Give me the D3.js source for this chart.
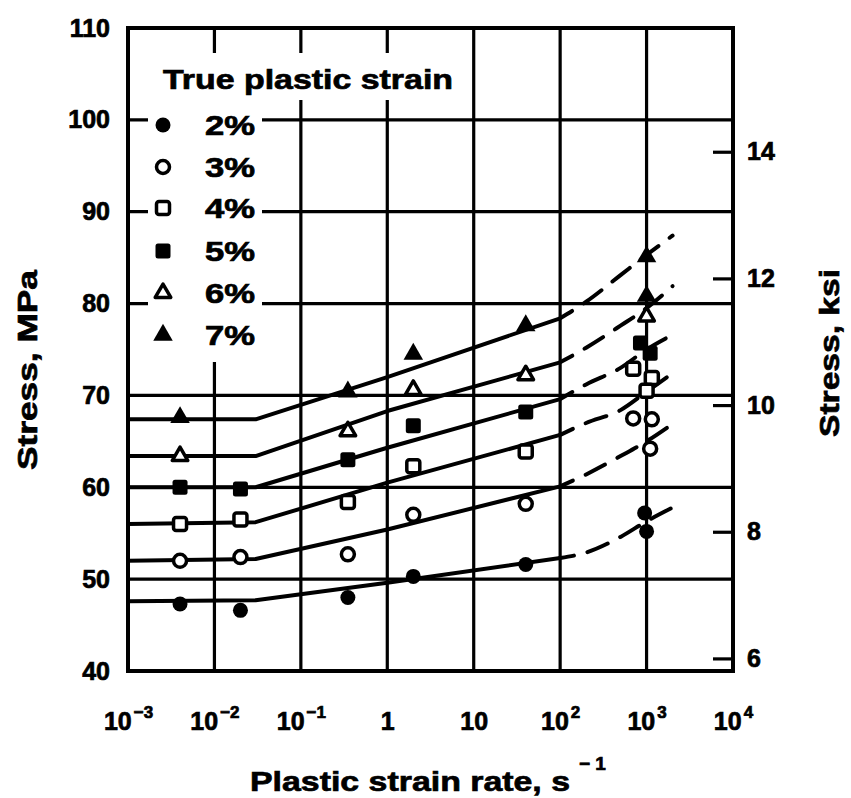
<!DOCTYPE html>
<html>
<head>
<meta charset="utf-8">
<script src="https://cdn.jsdelivr.net/npm/d3@7"></script>
<style>
  html, body { margin: 0; padding: 0; background: #fff; }
  svg { display: block; }
  text { font-family: "Liberation Sans", Arial, sans-serif; font-weight: bold; fill: #000; stroke: #000; stroke-width: 0.7px; }
</style>
</head>
<body>
<svg id="chart"></svg>
<script>
// legend / series
const strainLabels = ['2%', '3%', '4%', '5%', '6%', '7%'];
const markerTypes = ['dot', 'circle', 'square', 'filledSquare', 'triangle', 'filledTriangle'];

// measured points: [plastic strain rate (1/s), stress (MPa)]
const points2 = [[0.004, 47.3], [0.02, 46.6], [0.35, 48.0], [2, 50.3], [40, 51.6], [950, 57.2], [1000, 55.2]];
const points3 = [[0.004, 52.0], [0.02, 52.4], [0.35, 52.7], [2, 57.0], [40, 58.2], [700, 67.5], [1150, 67.4], [1100, 64.2]];
const points4 = [[0.004, 56.0], [0.02, 56.5], [0.35, 58.4], [2, 62.3], [40, 63.9], [700, 72.9], [1150, 71.9], [1000, 70.5]];
const points5 = [[0.004, 60.0], [0.02, 59.8], [0.35, 63.0], [2, 66.7], [40, 68.2], [850, 75.7], [1100, 74.6]];
const points6 = [[0.004, 63.4], [0.35, 66.1], [2, 70.6], [40, 72.2], [1000, 78.6]];
const points7 = [[0.004, 67.6], [0.35, 70.4], [2, 74.5], [40, 77.6], [1000, 85.1], [1000, 80.8]];

// fitted curves, read at these rates
const solidRates = [0.001, 0.03, 1, 100];
const dashedRates = [100, 200, 500, 1000, 2000];
const solid2 = [47.6, 47.7, 49.6, 52.3];
const solid3 = [52.0, 52.2, 55.4, 60.1];
const solid4 = [56.0, 56.2, 60.5, 65.7];
const solid5 = [60.0, 60.0, 64.3, 69.6];
const solid6 = [63.4, 63.4, 68.3, 73.6];
const solid7 = [67.4, 67.4, 72.0, 78.4];
const dashed2 = [52.3, 52.9, 54.6, 56.3, 57.8];
const dashed3 = [60.1, 61.4, 63.4, 65.0, 66.9];
const dashed4 = [65.7, 67.0, 68.4, 70.4, 72.4];
const dashed5 = [69.6, 71.2, 73.0, 75.0, 76.6];
const dashed6 = [73.6, 75.2, 77.6, 79.5, 81.9];
const dashed7 = [78.4, 80.2, 83.1, 85.3, 87.4];

// axes
const xTickValues = [1e-3, 1e-2, 1e-1, 1, 10, 1e2, 1e3, 1e4];
const xTickBase = ['10', '10', '10', '1', '10', '10', '10', '10'];
const xTickExp = ['\u22123', '\u22122', '\u22121', '', '', '2', '3', '4'];
const mpaTicks = [40, 50, 60, 70, 80, 90, 100, 110];
const ksiTicks = [6, 8, 10, 12, 14];
const MPA_PER_KSI = 6.895;

const pointSets = [points2, points3, points4, points5, points6, points7];
const solidFits = [solid2, solid3, solid4, solid5, solid6, solid7];
const dashedFits = [dashed2, dashed3, dashed4, dashed5, dashed6, dashed7];

const series = strainLabels.map((label, i) => ({
  label,
  marker: markerTypes[i],
  points: pointSets[i],
  solid: solidRates.map((r, j) => [r, solidFits[i][j]]),
  dashed: dashedRates.map((r, j) => [r, dashedFits[i][j]])
}));

const svgWidth = 851;
const svgHeight = 798;
const margin = { top: 28, right: 118, bottom: 127, left: 128 };
const x0 = margin.left, x1 = svgWidth - margin.right;
const y0 = margin.top, y1 = svgHeight - margin.bottom;

const svg = d3.select('#chart')
  .attr('width', svgWidth)
  .attr('height', svgHeight);

svg.append('rect').attr('width', svgWidth).attr('height', svgHeight).attr('fill', '#fff');

const xScale = d3.scaleLog().domain([1e-3, 1e4]).range([x0, x1]);
const yScale = d3.scaleLinear().domain([40, 110]).range([y1, y0]);
const yKsi = d3.scaleLinear().domain([40 / MPA_PER_KSI, 110 / MPA_PER_KSI]).range([y1, y0]);

// grid
const grid = svg.append('g').attr('stroke', '#000').attr('stroke-width', 3.2);
grid.selectAll('.vgrid')
  .data(xTickValues.slice(1, -1))
  .join('line')
  .attr('class', 'vgrid')
  .attr('x1', d => xScale(d)).attr('x2', d => xScale(d))
  .attr('y1', y0).attr('y2', y1);
grid.selectAll('.hgrid')
  .data(mpaTicks.slice(1, -1))
  .join('line')
  .attr('class', 'hgrid')
  .attr('x1', x0).attr('x2', x1)
  .attr('y1', d => yScale(d)).attr('y2', d => yScale(d));

// legend background (grid is cut under the legend)
svg.append('rect').attr('x', 148).attr('y', 53).attr('width', 314).attr('height', 47).attr('fill', '#fff');
svg.append('rect').attr('x', 148).attr('y', 100).attr('width', 114).attr('height', 262).attr('fill', '#fff');

// axes
const xAxis = d3.axisBottom(xScale).tickValues(xTickValues).tickSize(0).tickPadding(41).tickFormat(() => '');
const xAxisG = svg.append('g')
  .attr('transform', `translate(0,${y1})`)
  .call(xAxis);
xAxisG.select('.domain').remove();
xAxisG.selectAll('.tick text')
  .attr('font-size', 25)
  .attr('font-family', '"Liberation Sans", Arial, sans-serif')
  .each(function (d, i) {
    const t = d3.select(this);
    t.append('tspan').text(xTickBase[i]);
    if (xTickExp[i]) {
      t.append('tspan').attr('font-size', 17).attr('dx', 2).attr('dy', -12).text(xTickExp[i]);
    }
  });

const yAxis = d3.axisLeft(yScale).tickValues(mpaTicks).tickSize(0).tickPadding(18);
const yAxisG = svg.append('g')
  .attr('transform', `translate(${x0},0)`)
  .call(yAxis);
yAxisG.select('.domain').remove();
yAxisG.selectAll('.tick text').attr('font-size', 25).attr('font-family', '"Liberation Sans", Arial, sans-serif');

const ksiAxis = d3.axisRight(yKsi).tickValues(ksiTicks).tickSizeInner(-20).tickSizeOuter(0).tickPadding(14);
const ksiAxisG = svg.append('g')
  .attr('transform', `translate(${x1},0)`)
  .call(ksiAxis);
ksiAxisG.select('.domain').remove();
ksiAxisG.selectAll('.tick line').attr('stroke', '#000').attr('stroke-width', 3.2);
ksiAxisG.selectAll('.tick text').attr('font-size', 25).attr('font-family', '"Liberation Sans", Arial, sans-serif');

// frame
svg.append('rect')
  .attr('x', x0).attr('y', y0)
  .attr('width', x1 - x0).attr('height', y1 - y0)
  .attr('fill', 'none').attr('stroke', '#000').attr('stroke-width', 4);

// fitted curves
const line = d3.line().x(d => xScale(d[0])).y(d => yScale(d[1]));
const lineSmooth = d3.line().x(d => xScale(d[0])).y(d => yScale(d[1])).curve(d3.curveMonotoneX);

const curves = svg.append('g').attr('fill', 'none').attr('stroke', '#000').attr('stroke-width', 4);
curves.selectAll('.solid')
  .data(series)
  .join('path')
  .attr('class', 'solid')
  .attr('stroke-linejoin', 'round')
  .attr('d', d => line(d.solid));
curves.selectAll('.dashed')
  .data(series)
  .join('path')
  .attr('class', 'dashed')
  .attr('stroke-linecap', 'round')
  .attr('stroke-dasharray', '22,14')
  .attr('stroke-dashoffset', 8)
  .attr('d', d => lineSmooth(d.dashed));

// markers
function drawMarker(g, type, cx, cy) {
  if (type === 'dot') {
    g.append('circle').attr('cx', cx).attr('cy', cy).attr('r', 7.5).attr('fill', '#000');
  } else if (type === 'circle') {
    g.append('circle').attr('cx', cx).attr('cy', cy).attr('r', 6.5)
      .attr('fill', '#fff').attr('stroke', '#000').attr('stroke-width', 3.5);
  } else if (type === 'square') {
    g.append('rect').attr('x', cx - 6.5).attr('y', cy - 6.5).attr('width', 13).attr('height', 13).attr('rx', 2.5)
      .attr('fill', '#fff').attr('stroke', '#000').attr('stroke-width', 3.5);
  } else if (type === 'filledSquare') {
    g.append('rect').attr('x', cx - 7.5).attr('y', cy - 7.5).attr('width', 15).attr('height', 15).attr('rx', 2.5)
      .attr('fill', '#000');
  } else if (type === 'triangle') {
    g.append('path').attr('transform', `translate(${cx},${cy})`)
      .attr('d', d3.symbol().type(d3.symbolTriangle).size(105)())
      .attr('fill', '#fff').attr('stroke', '#000').attr('stroke-width', 3.5).attr('stroke-linejoin', 'round');
  } else {
    g.append('path').attr('transform', `translate(${cx},${cy})`)
      .attr('d', d3.symbol().type(d3.symbolTriangle).size(165)())
      .attr('fill', '#000');
  }
}

const markers = svg.append('g');
series.forEach(s => {
  s.points.forEach(p => drawMarker(markers, s.marker, xScale(p[0]), yScale(p[1])));
});

// legend
const legend = svg.append('g');
legend.append('text')
  .attr('x', 163).attr('y', 89)
  .attr('font-size', 27)
  .attr('textLength', 290).attr('lengthAdjust', 'spacingAndGlyphs')
  .text('True plastic strain');
const legendRows = [125, 167, 208, 251, 293, 335];
series.forEach((s, i) => {
  drawMarker(legend, s.marker, 163, legendRows[i]);
  legend.append('text')
    .attr('x', 205).attr('y', legendRows[i] + 10)
    .attr('font-size', 27)
    .attr('textLength', 50).attr('lengthAdjust', 'spacingAndGlyphs')
    .text(s.label);
});

// axis titles
svg.append('text')
  .attr('x', 250).attr('y', 791)
  .attr('font-size', 28)
  .attr('textLength', 320).attr('lengthAdjust', 'spacingAndGlyphs')
  .text('Plastic strain rate, s');
svg.append('text')
  .attr('x', 579).attr('y', 770)
  .attr('font-size', 19)
  .text('\u2212 1');

svg.append('text')
  .attr('transform', 'translate(37,370) rotate(-90)')
  .attr('text-anchor', 'middle')
  .attr('font-size', 28)
  .attr('textLength', 200).attr('lengthAdjust', 'spacingAndGlyphs')
  .text('Stress, MPa');

svg.append('text')
  .attr('transform', 'translate(839,353) rotate(-90)')
  .attr('text-anchor', 'middle')
  .attr('font-size', 28)
  .attr('textLength', 168).attr('lengthAdjust', 'spacingAndGlyphs')
  .text('Stress, ksi');
</script>
</body>
</html>
